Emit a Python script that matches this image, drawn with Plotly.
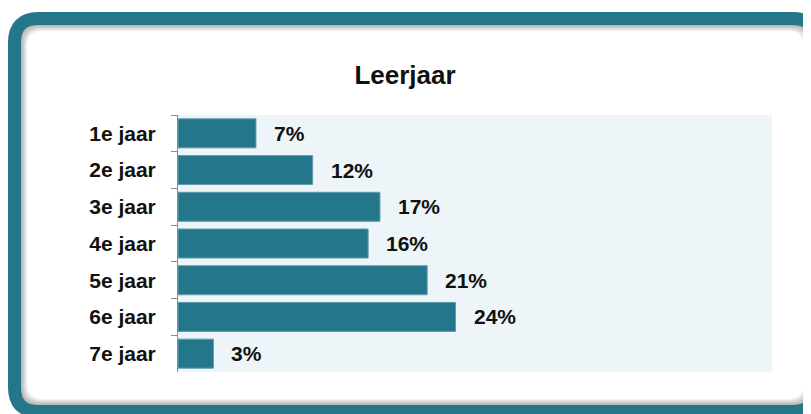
import plotly.graph_objects as go

categories = ["1e jaar", "2e jaar", "3e jaar", "4e jaar", "5e jaar", "6e jaar", "7e jaar"]
values = [6.6, 11.4, 17.1, 16.1, 21.1, 23.5, 3.0]
labels = ["7%", "12%", "17%", "16%", "21%", "24%", "3%"]
title_text = "Leerjaar"

# the page puts the figure 8px in from the top-left corner of the window
OFF = 8
W, H = 811, 414
L, R, T, B = 178 - OFF, 772 - OFF, 115 - OFF, 372 - OFF  # plot area in figure pixels

FONT = "Liberation Sans, Arial, Helvetica, sans-serif"
TEAL = "#24768A"


def px(x):
    return (x - L) / (R - L)


def py(y):
    return (B - y) / (B - T)


def rrect(x0, y0, x1, y1, r):
    pts = [
        f"M {px(x0 + r)},{py(y0)}",
        f"L {px(x1 - r)},{py(y0)}",
        f"Q {px(x1)},{py(y0)} {px(x1)},{py(y0 + r)}",
        f"L {px(x1)},{py(y1 - r)}",
        f"Q {px(x1)},{py(y1)} {px(x1 - r)},{py(y1)}",
        f"L {px(x0 + r)},{py(y1)}",
        f"Q {px(x0)},{py(y1)} {px(x0)},{py(y1 - r)}",
        f"L {px(x0)},{py(y0 + r)}",
        f"Q {px(x0)},{py(y0)} {px(x0 + r)},{py(y0)}",
        "Z",
    ]
    return " ".join(pts)


fig = go.Figure()
fig.add_trace(go.Bar(
    x=values, y=categories, orientation="h",
    marker=dict(color=TEAL, line=dict(color="#5E9DAD", width=1)),
    hoverinfo="skip",
))

for v, c, t in zip(values, categories, labels):
    fig.add_annotation(x=v, y=c, text=f"<b>{t}</b>", showarrow=False,
                       xanchor="left", yanchor="middle", xshift=16, yshift=0,
                       font=dict(family=FONT, size=21, color="#111111"))

shapes = []
bx0, by0, bx1, by1 = 14.5 - OFF, 18.5 - OFF, 816.5 - OFF, 411.5 - OFF
for k in range(1, 7):
    shapes.append(dict(type="path", xref="paper", yref="paper",
                       path=rrect(bx0 + k, by0 + k, bx1 - k, by1 - k, 24),
                       line=dict(color="rgba(0,0,0,0.05)", width=13),
                       fillcolor="rgba(0,0,0,0)", layer="below"))
shapes.append(dict(type="path", xref="paper", yref="paper",
                   path=rrect(bx0, by0, bx1, by1, 24),
                   line=dict(color=TEAL, width=13),
                   fillcolor="rgba(0,0,0,0)", layer="above"))

fig.update_layout(
    width=W, height=H,
    margin=dict(l=L, r=W - R, t=T, b=H - B),
    paper_bgcolor="white",
    plot_bgcolor="#EDF5F8",
    showlegend=False,
    bargap=0.21,
    shapes=shapes,
    title=dict(text=f"<b>{title_text}</b>", x=(405 - OFF) / W, xref="container",
               y=1 - (75 - OFF) / H, yref="container", xanchor="center", yanchor="middle",
               font=dict(family=FONT, size=26, color="#111111")),
    xaxis=dict(range=[0, 50.3], showgrid=False, zeroline=False,
               showticklabels=False, ticks="", showline=False, fixedrange=True),
    yaxis=dict(autorange="reversed", showgrid=False, zeroline=False,
               showline=True, linecolor="#8C8C8C", linewidth=1,
               ticks="outside", ticklen=6, tickcolor="#8C8C8C", tickwidth=1,
               tickson="boundaries", ticklabelstandoff=17,
               tickfont=dict(family=FONT, size=21, color="#111111"),
               tickprefix="<b>", ticksuffix="</b>"),
)

fig.write_html("out.html")
